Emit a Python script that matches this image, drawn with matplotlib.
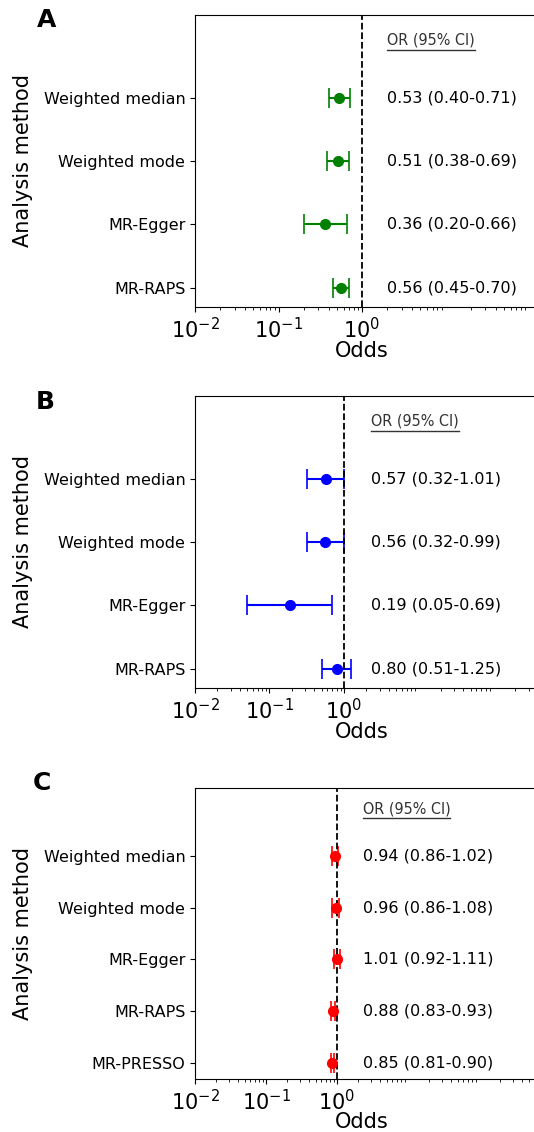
import matplotlib
matplotlib.use("Agg")
import matplotlib.pyplot as plt
from matplotlib.lines import Line2D

# --- Données ---
methods_4 = ["Weighted median", "Weighted mode", "MR-Egger", "MR-RAPS"]
methods_5 = ["Weighted median", "Weighted mode", "MR-Egger", "MR-RAPS", "MR-PRESSO"]

or_a = [0.53, 0.51, 0.36, 0.56]
lo_a = [0.40, 0.38, 0.20, 0.45]
hi_a = [0.71, 0.69, 0.66, 0.70]

or_b = [0.57, 0.56, 0.19, 0.80]
lo_b = [0.32, 0.32, 0.05, 0.51]
hi_b = [1.01, 0.99, 0.69, 1.25]

or_c = [0.94, 0.96, 1.01, 0.88, 0.85]
lo_c = [0.86, 0.86, 0.92, 0.83, 0.81]
hi_c = [1.02, 1.08, 1.11, 0.93, 0.90]

# lettre, méthodes, OR, IC bas, IC haut, couleur, borne x max, position x du texte
panels = [
    ("A", methods_4, or_a, lo_a, hi_a, "green", 616, 2.0),
    ("B", methods_4, or_b, lo_b, hi_b, "blue", 2340, 2.3),
    ("C", methods_5, or_c, lo_c, hi_c, "red", 4300, 2.3),
]

W, H = 534, 1132
fig = plt.figure(figsize=(W / 100, H / 100), dpi=100)

# position des axes (pixels) : gauche, largeur, (haut, bas) ; l'axe déborde à droite
ax_left = 195
ax_width = 400
boxes = [(15, 307), (396, 688), (788, 1079)]
letters_pos = [(47, 20), (45, 402), (42, 783)]

headers = []
for (letter, methods, ors, los, his, color, xmax, xtext), (top, bot), (lx, ly) in zip(panels, boxes, letters_pos):
    ax = fig.add_axes([ax_left / W, 1 - bot / H, ax_width / W, (bot - top) / H])
    n = len(methods)
    ypos = list(range(n - 1, -1, -1))
    err = [[o - l for o, l in zip(ors, los)], [h - o for o, h in zip(ors, his)]]
    ax.errorbar(ors, ypos, xerr=err, fmt="o", color=color, ecolor=color,
                markersize=7, capsize=7, elinewidth=1.5, capthick=1.2)
    ax.axvline(1, color="black", linestyle="--", linewidth=1.3)
    ax.set_xscale("log")
    ax.set_xlim(0.01, xmax)
    ax.set_ylim(-0.3, n + 0.3)
    ax.set_xticks([0.01, 0.1, 1])
    ax.set_yticks(ypos)
    ax.set_yticklabels(methods, fontsize=11.5)
    ax.tick_params(axis="x", labelsize=15)
    ax.set_xlabel("Odds", fontsize=15)
    ax.xaxis.set_label_coords((362 - ax_left) / ax_width, -0.115)
    ax.set_ylabel("Analysis method", fontsize=15)
    ax.yaxis.set_label_coords((33 - ax_left) / ax_width, 0.5)

    for o, l, h, y in zip(ors, los, his, ypos):
        ax.text(xtext, y, f"{o:.2f} ({l:.2f}-{h:.2f})", fontsize=11.5,
                va="center", ha="left")
    t = ax.text(xtext, n - 0.1, "OR (95% CI)", fontsize=11.5, color="0.2",
                va="center", ha="left", fontstretch="condensed")
    headers.append(t)

    fig.text(lx / W, 1 - ly / H, letter, fontsize=18, fontweight="bold",
             ha="center", va="center")

# soulignement des en-têtes
fig.canvas.draw()
r = fig.canvas.get_renderer()
for t in headers:
    bb = t.get_window_extent(renderer=r)
    y = bb.y0 - 2
    fig.add_artist(Line2D([bb.x0, bb.x1], [y, y], transform=None,
                          color="0.2", linewidth=1.0))

fig.savefig("out.png", dpi=100)
